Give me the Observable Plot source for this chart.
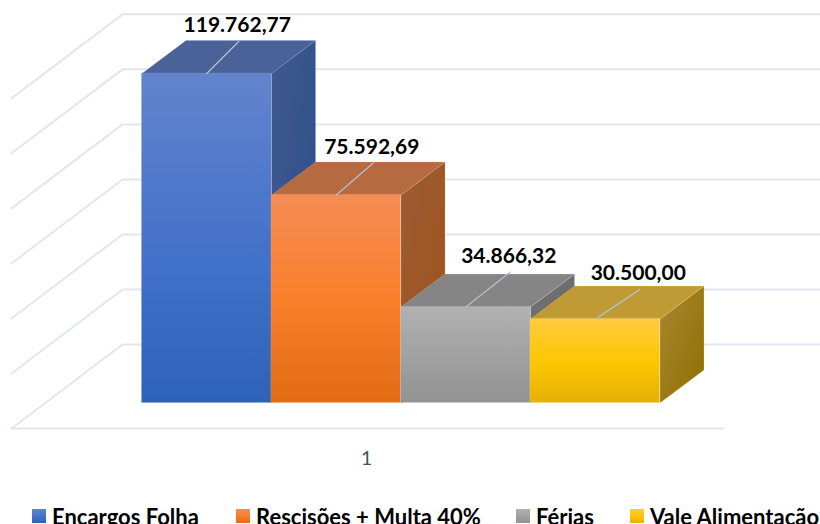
<!DOCTYPE html>
<html lang="pt-BR">
<head>
<meta charset="utf-8">
<script src="https://cdn.jsdelivr.net/npm/d3@7"></script>
<script src="https://cdn.jsdelivr.net/npm/@observablehq/plot@0.6"></script>
<style>
html,body{margin:0;padding:0;background:#fff;overflow:hidden;width:820px;height:524px}
#chart svg{display:block}
#legend{position:relative;width:820px;height:54px;overflow:hidden;font:bold 22px Lato,sans-serif;color:#000}
#legend .item{position:absolute;top:34px;white-space:nowrap;line-height:26px}
#legend .sw{position:absolute;left:0;top:5px;width:14px;height:14px}
#legend .tx{margin-left:20px}
</style>
</head>
<body>
<div id="chart"></div>
<div id="legend"></div>
<script>
// Data
const series = ["Encargos Folha", "Rescisões + Multa 40%", "Férias", "Vale Alimentação"];
const values = [119762.77, 75592.69, 34866.32, 30500.00];
const category = "1";
const gridTicks = [0, 20000, 40000, 60000, 80000, 100000, 120000];

// Styles
const frontStops = [
  [["0%","#6284cd"],["60%","#4070c9"],["100%","#2e62b8"]],
  [["0%","#f58c55"],["50%","#f97f2b"],["100%","#e36b14"]],
  [["0%","#b1b1b1"],["100%","#929292"]],
  [["0%","#ffca42"],["50%","#ffc600"],["100%","#e5b205"]]
];
const sideStops = [
  [["0%","#40598c"],["100%","#2a4e8c"]],
  [["0%","#9a5c35"],["100%","#a2521a"]],
  [["0%","#707070"],["100%","#6b6b6b"]],
  [["0%","#a98732"],["100%","#8e6f00"]]
];
const topColors = ["#4b6298", "#b66a3f", "#858585", "#bf9a35"];
const edgeColors = ["#7f9bd8", "#e2a77f", "#c9c9c9", "#f2d678"];
const gridColor = "#e3e6ee";
const leaderColor = "#b4bfcb";

// Projection of the oblique 3D view, in bar-widths and value units
const W = 820, H = 470;
const barPx = 129.5, originX = 141.5, baseY = 402.5;
const k = 329.5 / values[0];               // pixels per value unit
const unitsX = px => px / barPx;
const unitsY = px => px / k;
const depth = {x: unitsX(44), y: unitsY(33)};           // bar depth
const wall = {x: unitsX(-19.5), y: unitsY(58.5)};       // back wall corner
const floorFront = {x: unitsX(-130.5), y: unitsY(-25.5)};
const floorEnd = unitsX(723 - originX);
const xMax = unitsX(W - originX);
// Leader-line ends, relative to the middle of each bar's front top edge
const leader = [[32, 32], [37, 32], [44.5, 35], [44.5, 29.5]];

const rows = series.map((name, i) => ({name, i, value: values[i]}));
const label = v => v.toLocaleString("pt-BR", {minimumFractionDigits: 2, maximumFractionDigits: 2});

// Gradients
const defs = () => {
  const d = d3.create("svg:defs");
  const grad = (id, stops, diag) => {
    const g = d.append("linearGradient").attr("id", id)
      .attr("x1", 0).attr("y1", 0).attr("x2", diag ? 1 : 0).attr("y2", 1);
    stops.forEach(([o, c]) => g.append("stop").attr("offset", o).attr("stop-color", c));
  };
  frontStops.forEach((s, i) => grad("front" + i, s, false));
  sideStops.forEach((s, i) => grad("side" + i, s, true));
  return d.node();
};

// Walls and floor
const gridLines = gridTicks.flatMap(t => [
  {t, x: floorFront.x, y: t + floorFront.y},
  {t, x: wall.x, y: t + wall.y},
  {t, x: xMax, y: t + wall.y}
]);
const floorLine = [{x: floorFront.x, y: floorFront.y}, {x: floorEnd, y: floorFront.y}];

// Bars
const barMarks = rows.flatMap(r => {
  const {i, value: v} = r;
  const side = [
    {x: i + 1, y: 0}, {x: i + 1 + depth.x, y: depth.y},
    {x: i + 1 + depth.x, y: v + depth.y}, {x: i + 1, y: v}, {x: i + 1, y: 0}
  ];
  const top = [
    {x: i, y: v}, {x: i + 1, y: v},
    {x: i + 1 + depth.x, y: v + depth.y}, {x: i + depth.x, y: v + depth.y}, {x: i, y: v}
  ];
  const edge = {stroke: edgeColors[i], strokeWidth: 0.6, strokeOpacity: 0.45, strokeLinejoin: "miter"};
  return [
    Plot.line(side, {x: "x", y: "y", fill: `url(#side${i})`, ...edge}),
    Plot.line(top, {x: "x", y: "y", fill: topColors[i], ...edge}),
    Plot.rect([r], {x1: d => d.i, x2: d => d.i + 1, y1: 0, y2: d => d.value,
      fill: `url(#front${i})`, inset: 0, ...edge})
  ];
});

// Leaders and labels
const ends = rows.map(r => ({
  ...r, x: r.i + 0.5 + unitsX(leader[r.i][0]), y: r.value + unitsY(leader[r.i][1])
}));
const leaderLines = ends.flatMap(e => [
  {i: e.i, x: e.i + 0.5, y: e.value}, {i: e.i, x: e.x, y: e.y}
]);

const plot = Plot.plot({
  width: W, height: H,
  marginTop: 0, marginRight: 0, marginBottom: 0, marginLeft: 0,
  style: {background: "#fff", overflow: "visible"},
  x: {axis: null, domain: [unitsX(-originX), xMax], range: [0, W]},
  y: {axis: null, domain: [unitsY(baseY - H), unitsY(baseY)], range: [H, 0]},
  marks: [
    defs,
    Plot.line(gridLines, {x: "x", y: "y", z: "t", stroke: gridColor, strokeWidth: 2}),
    Plot.line(floorLine, {x: "x", y: "y", stroke: gridColor, strokeWidth: 2}),
    ...barMarks,
    Plot.line(leaderLines, {x: "x", y: "y", z: "i", stroke: leaderColor, strokeWidth: 1.3}),
    Plot.text(ends, {x: "x", y: "y", text: d => label(d.value), dx: -1.5, dy: -16,
      fontFamily: "Lato, sans-serif", fontWeight: "bold", fontSize: 21, fill: "#000"}),
    Plot.text([category], {x: unitsX(366 - originX), y: unitsY(baseY - 458), text: d => d,
      fontFamily: "Lato, sans-serif", fontSize: 20, fill: "#44546a"})
  ]
});
document.getElementById("chart").append(plot);

// Legend below the SVG
const legendLeft = [32, 236, 516, 630];
const legend = d3.select("#legend");
series.forEach((name, i) => {
  const it = legend.append("div").attr("class", "item").style("left", legendLeft[i] + "px");
  it.append("div").attr("class", "sw").style("background",
    `linear-gradient(${frontStops[i].map(([o, c]) => c + " " + o).join(",")})`);
  it.append("span").attr("class", "tx").text(name);
});
</script>
</body>
</html>
